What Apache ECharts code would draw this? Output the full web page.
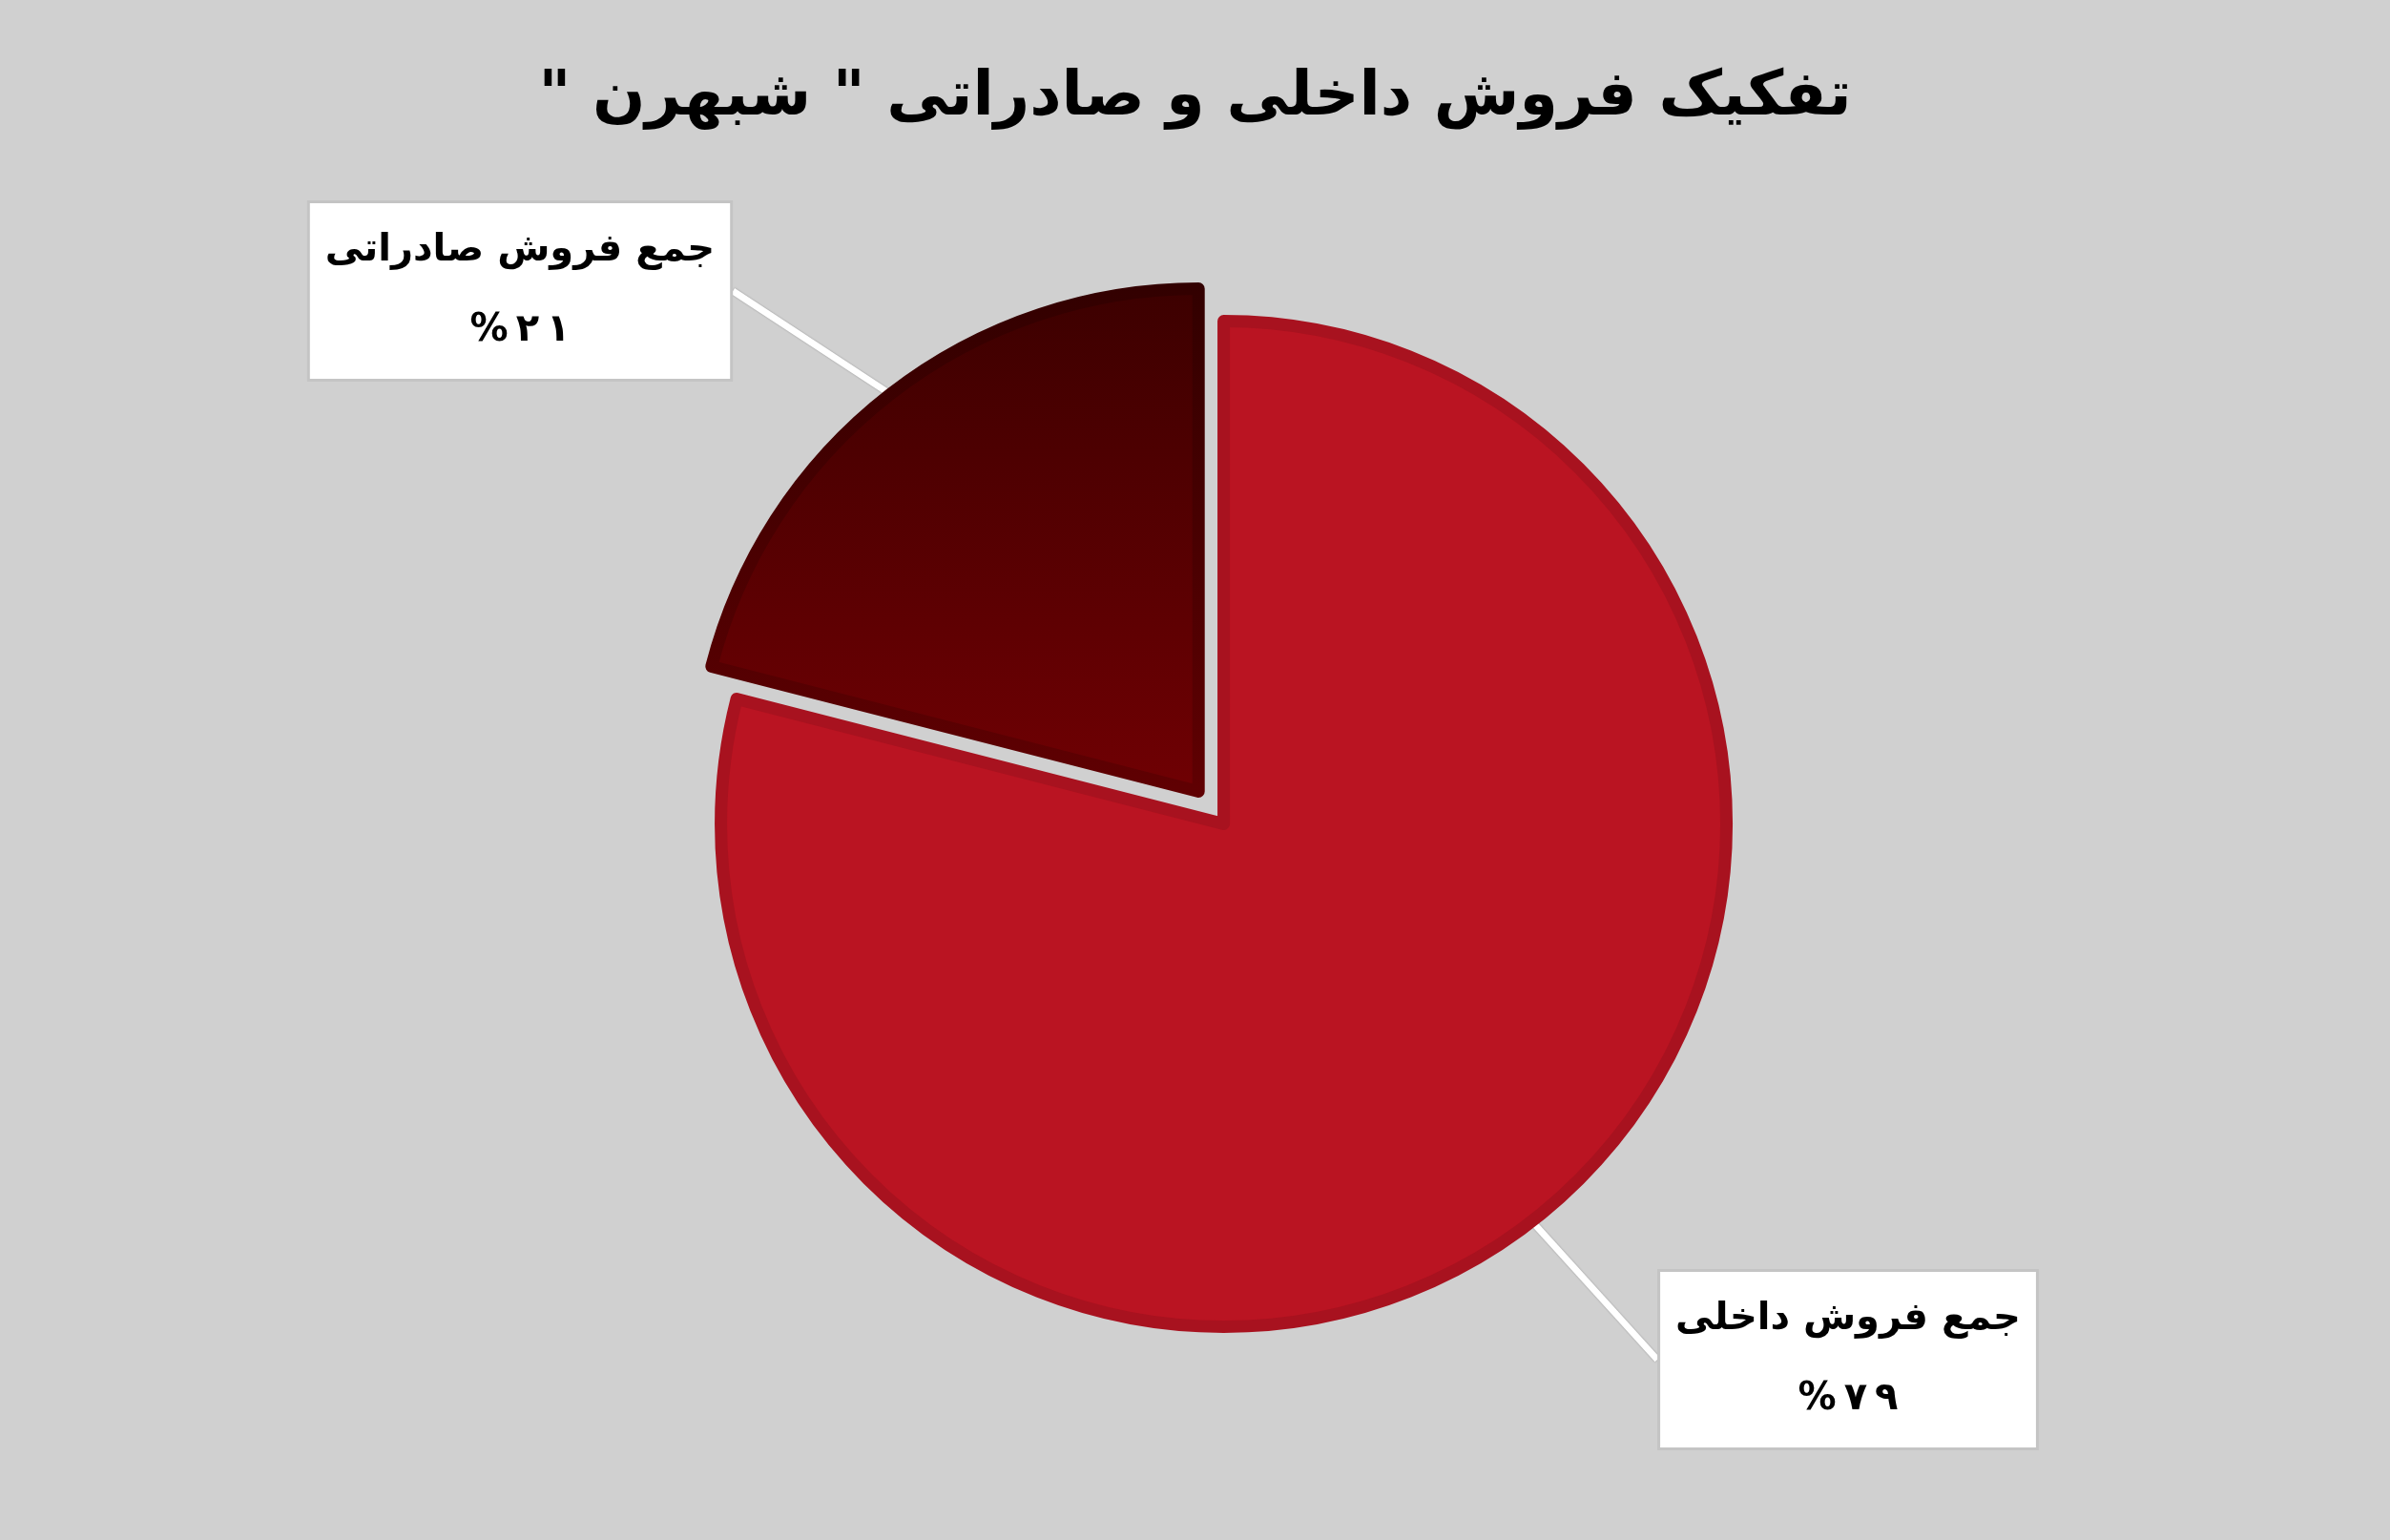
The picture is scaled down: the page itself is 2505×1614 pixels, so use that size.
<!DOCTYPE html>
<html><head><meta charset="utf-8">
<script src="https://cdn.jsdelivr.net/npm/echarts@6/dist/echarts.min.js"></script>
<style>html,body{margin:0;padding:0;background:#d0d0d0}#c{width:2505px;height:1614px}</style>
</head><body><div id="c"></div>
<script>
// ---- data ----
const titleText = 'تفکیک فروش داخلی و صادراتی " شبهرن "\u200F';
const categories = ['جمع فروش داخلی', 'جمع فروش صادراتی'];
const shares = [79, 21];
const explodedIndex = 1;

function toPersianDigits(n) {
  const d = '۰۱۲۳۴۵۶۷۸۹';
  return String(n).replace(/[0-9]/g, c => d[+c]).split('').join('\u2009');
}

const el = document.getElementById('c');
const chart = echarts.init(el, null, {renderer: 'canvas'});
const W = chart.getWidth(), H = chart.getHeight();

const styles = [
  {color: '#BA1422', borderColor: '#A8121F', borderWidth: 13},
  {
    color: {type: 'linear', x: 0, y: 0, x2: 0, y2: 1,
      colorStops: [{offset: 0, color: '#3C0000'}, {offset: 1, color: '#700003'}]},
    borderColor: {type: 'linear', x: 0, y: 0, x2: 0, y2: 1,
      colorStops: [{offset: 0, color: '#320000'}, {offset: 1, color: '#600002'}]},
    borderWidth: 13
  }
];

// pie geometry
const cx = W * 0.512, cy = H * 0.535, R = 527, explode = 43;
const total = shares.reduce((a, b) => a + b, 0);
const before = shares.slice(0, explodedIndex).reduce((a, b) => a + b, 0);
const midDeg = 90 - 360 * (before + shares[explodedIndex] / 2) / total;
const midRad = midDeg * Math.PI / 180;
const ecx = cx + explode * Math.cos(midRad), ecy = cy - explode * Math.sin(midRad);

const labelBoxes = [[1937, 1425], [545, 305]];

function buildData(visibleIndex) {
  return categories.map((name, i) => {
    if (i !== visibleIndex) {
      return {name, value: shares[i],
        itemStyle: {color: 'transparent', borderWidth: 0},
        label: {show: false}, labelLine: {show: false}};
    }
    return {name, value: shares[i], itemStyle: styles[i]};
  });
}

const labelCfg = {
  show: true,
  position: 'outside',
  formatter: p => p.name + '\n%\u2009' + toPersianDigits(p.value),
  fontFamily: 'DejaVu Sans', fontWeight: 'bold', fontSize: 40, color: '#000',
  lineHeight: 84, align: 'center',
  backgroundColor: '#fff', borderColor: '#C4C4C4', borderWidth: 3,
  padding: [15, 16, 1, 16]
};
const labelLineCfg = {
  show: true, length: 60, length2: 0, smooth: false,
  lineStyle: {color: '#ffffff', width: 7, shadowColor: 'rgba(0,0,0,0.3)', shadowBlur: 2}
};

function makeSeries(visibleIndex, center) {
  return {
    type: 'pie',
    radius: R,
    center: center,
    startAngle: 90,
    clockwise: true,
    selectedMode: false,
    silent: true,
    data: buildData(visibleIndex),
    emphasis: {disabled: true},
    label: labelCfg,
    labelLine: labelLineCfg,
    labelLayout: function (p) {
      const a = labelBoxes[p.dataIndex];
      return {x: a[0], y: a[1], align: 'center', verticalAlign: 'middle'};
    }
  };
}

chart.setOption({
  backgroundColor: '#D0D0D0',
  animation: false,
  title: {
    text: titleText, left: 'center', top: 66,
    textStyle: {fontFamily: 'DejaVu Sans', fontWeight: 'bold', fontSize: 65, color: '#000'}
  },
  series: [
    makeSeries(0, [cx, cy]),
    makeSeries(1, [ecx, ecy])
  ]
});
</script></body></html>
